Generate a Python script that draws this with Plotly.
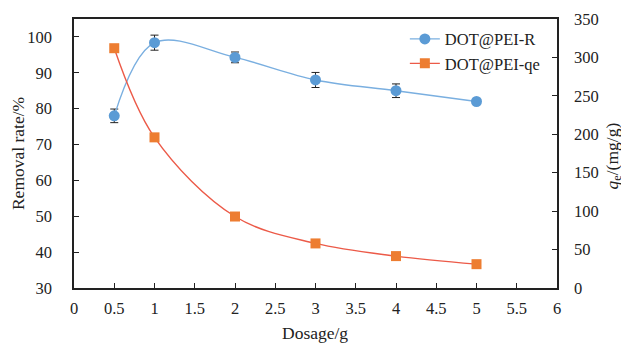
import plotly.graph_objects as go

dosage = [0.5, 1, 2, 3, 4, 5]
removal_rate = [78.0, 98.4, 94.3, 88.0, 85.0, 82.0]
removal_err = [1.9, 2.1, 1.5, 2.1, 1.9, 0.0]
qe = [312, 196, 93, 58, 41.5, 31]

x_ticks = [0, 0.5, 1, 1.5, 2, 2.5, 3, 3.5, 4, 4.5, 5, 5.5, 6]
x_tick_text = ["0", "0.5", "1", "1.5", "2", "2.5", "3", "3.5", "4", "4.5", "5", "5.5", "6"]

FONT = "Liberation Serif, Times New Roman, serif"
AX = "#222222"
TICKF = dict(family=FONT, size=16.5, color="#222222")
TITLEF = dict(family=FONT, size=17.5, color="#222222")

# page body has an 8px margin: figure drawn 8px in from the top-left corner
fig = go.Figure()
fig.add_trace(go.Scatter(
    x=dosage, y=removal_rate, name="DOT@PEI-R", mode="lines+markers",
    line=dict(color="#7AAFE0", width=1.4, shape="spline", smoothing=1.0),
    marker=dict(color="#5B9BD5", size=11, symbol="circle"),
    error_y=dict(type="data", array=removal_err, visible=True, color="#222222", thickness=1, width=4),
    yaxis="y",
))
fig.add_trace(go.Scatter(
    x=dosage, y=qe, name="DOT@PEI-qe", mode="lines+markers",
    line=dict(color="#EC5A48", width=1.4, shape="spline", smoothing=1.0),
    marker=dict(color="#ED7D31", size=10, symbol="square"),
    yaxis="y2",
))

fig.update_layout(
    width=621, height=336,
    margin=dict(l=66, r=72, t=11, b=56, autoexpand=False),
    paper_bgcolor="white", plot_bgcolor="white",
    font=dict(family=FONT, size=16, color="#222222"),
    showlegend=True,
    legend=dict(x=0.685, y=0.99, xanchor="left", yanchor="top",
                bgcolor="rgba(0,0,0,0)", font=dict(family=FONT, size=16.5, color="#222222"),
                itemwidth=30, tracegroupgap=0),
    xaxis=dict(range=[0, 6], tickvals=x_ticks, ticktext=x_tick_text, automargin=False,
               showline=True, linecolor=AX, linewidth=1.5, mirror=True,
               ticks="inside", ticklen=5, tickcolor=AX, showgrid=False, zeroline=False,
               tickfont=TICKF, ticklabelstandoff=4),
    yaxis=dict(range=[30, 105], tickvals=[30, 40, 50, 60, 70, 80, 90, 100], automargin=False,
               showline=True, linecolor=AX, linewidth=1.5, mirror=True,
               ticks="inside", ticklen=5, tickcolor=AX, showgrid=False, zeroline=False,
               tickfont=TICKF, ticklabelstandoff=17),
    yaxis2=dict(range=[0, 350], tickvals=[0, 50, 100, 150, 200, 250, 300, 350],
                overlaying="y", side="right", automargin=False,
                showline=True, linecolor=AX, linewidth=1.5,
                ticks="inside", ticklen=5, tickcolor=AX, showgrid=False, zeroline=False,
                tickfont=TICKF, ticklabelstandoff=12),
    annotations=[
        dict(text="Removal rate/%", xref="paper", yref="paper", x=-0.1159, y=0.498,
             textangle=-90, showarrow=False, font=TITLEF, xanchor="center", yanchor="middle"),
        dict(text="<i>q</i><sub>e</sub>/(mg/g)", xref="paper", yref="paper", x=1.117, y=0.491,
             textangle=-90, showarrow=False, font=TITLEF, xanchor="center", yanchor="middle"),
        dict(text="Dosage/g", xref="paper", yref="paper", x=0.499, y=-0.167,
             showarrow=False, font=TITLEF, xanchor="center", yanchor="middle"),
    ],
)

fig.write_html("out.html")
